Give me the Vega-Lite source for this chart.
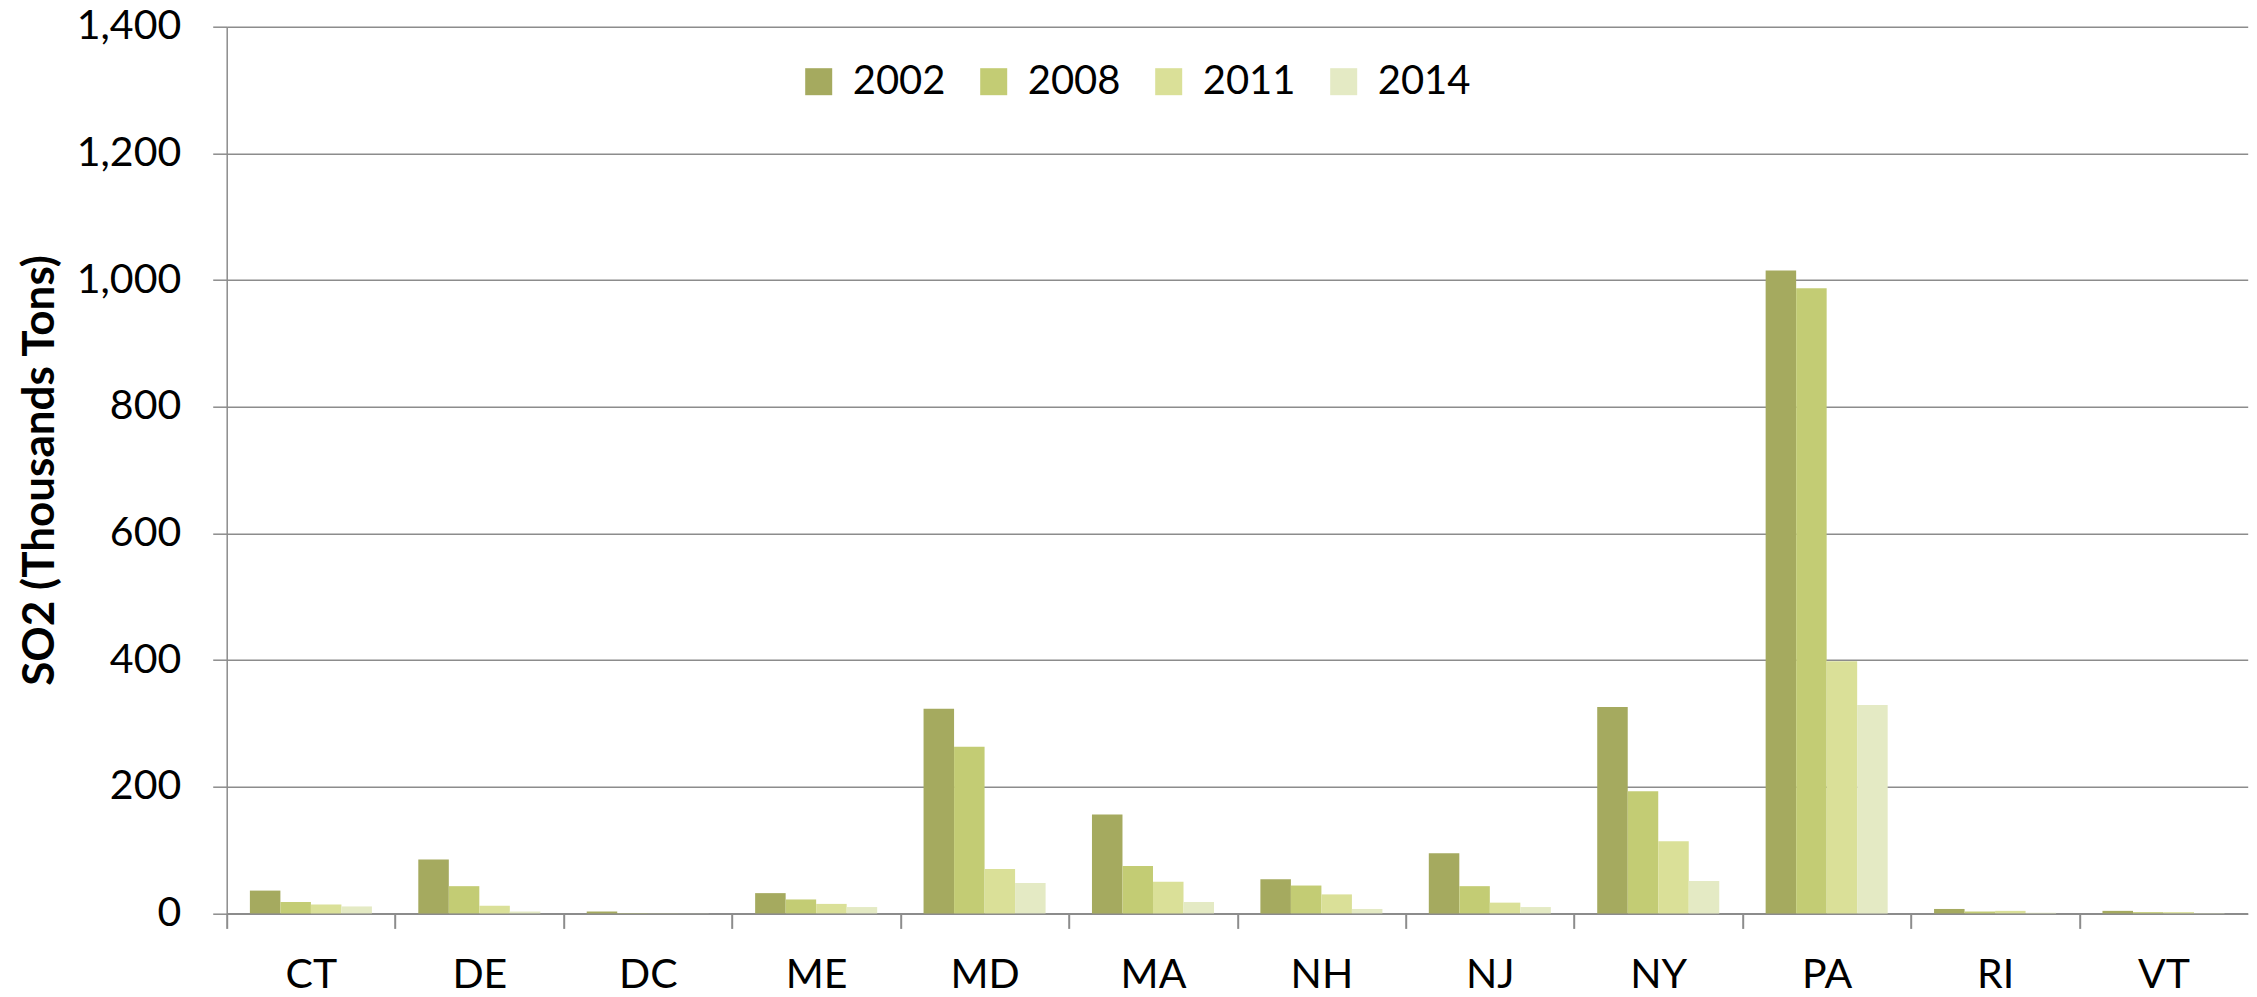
{
  "$schema": "https://vega.github.io/schema/vega-lite/v6.json",
  "width": 2021,
  "height": 886.7,
  "autosize": {"type": "none"},
  "padding": {"left": 226.7, "top": 26.7, "right": 9.3, "bottom": 83.6},
  "background": "white",
  "config": {"view": {"stroke": null}, "font": "Lato"},
  "data": {
    "values": [
      {"state": "CT", "year": "2002", "value": 36},
      {"state": "CT", "year": "2008", "value": 18},
      {"state": "CT", "year": "2011", "value": 14},
      {"state": "CT", "year": "2014", "value": 11},
      {"state": "DE", "year": "2002", "value": 85},
      {"state": "DE", "year": "2008", "value": 43},
      {"state": "DE", "year": "2011", "value": 12},
      {"state": "DE", "year": "2014", "value": 3},
      {"state": "DC", "year": "2002", "value": 3},
      {"state": "DC", "year": "2008", "value": 0.5},
      {"state": "DC", "year": "2011", "value": 0.3},
      {"state": "DC", "year": "2014", "value": 0.2},
      {"state": "ME", "year": "2002", "value": 32},
      {"state": "ME", "year": "2008", "value": 22},
      {"state": "ME", "year": "2011", "value": 15},
      {"state": "ME", "year": "2014", "value": 10},
      {"state": "MD", "year": "2002", "value": 323},
      {"state": "MD", "year": "2008", "value": 263},
      {"state": "MD", "year": "2011", "value": 70},
      {"state": "MD", "year": "2014", "value": 48},
      {"state": "MA", "year": "2002", "value": 156},
      {"state": "MA", "year": "2008", "value": 75},
      {"state": "MA", "year": "2011", "value": 50},
      {"state": "MA", "year": "2014", "value": 18},
      {"state": "NH", "year": "2002", "value": 54},
      {"state": "NH", "year": "2008", "value": 44},
      {"state": "NH", "year": "2011", "value": 30},
      {"state": "NH", "year": "2014", "value": 7},
      {"state": "NJ", "year": "2002", "value": 95},
      {"state": "NJ", "year": "2008", "value": 43},
      {"state": "NJ", "year": "2011", "value": 17},
      {"state": "NJ", "year": "2014", "value": 10},
      {"state": "NY", "year": "2002", "value": 326},
      {"state": "NY", "year": "2008", "value": 193},
      {"state": "NY", "year": "2011", "value": 114},
      {"state": "NY", "year": "2014", "value": 51},
      {"state": "PA", "year": "2002", "value": 1015},
      {"state": "PA", "year": "2008", "value": 987},
      {"state": "PA", "year": "2011", "value": 398},
      {"state": "PA", "year": "2014", "value": 329},
      {"state": "RI", "year": "2002", "value": 7},
      {"state": "RI", "year": "2008", "value": 3},
      {"state": "RI", "year": "2011", "value": 4},
      {"state": "RI", "year": "2014", "value": 1},
      {"state": "VT", "year": "2002", "value": 4},
      {"state": "VT", "year": "2008", "value": 2},
      {"state": "VT", "year": "2011", "value": 2},
      {"state": "VT", "year": "2014", "value": 0.5}
    ]
  },
  "mark": {"type": "bar"},
  "encoding": {
    "x": {
      "field": "state",
      "type": "nominal",
      "sort": ["CT", "DE", "DC", "ME", "MD", "MA", "NH", "NJ", "NY", "PA", "RI", "VT"],
      "scale": {"paddingInner": 0, "paddingOuter": 0},
      "axis": {
        "title": null,
        "labelAngle": 0,
        "ticks": true,
        "tickOffset": -84.2,
        "labelOffset": 84.2,
        "labelFontSize": 41,
        "labelFont": "Lato",
        "labelColor": "black",
        "labelPadding": 27,
        "tickSize": 15,
        "tickColor": "#8c8c8c",
        "tickWidth": 2,
        "domainColor": "#8c8c8c",
        "domainWidth": 2,
        "grid": false
      }
    },
    "xOffset": {
      "field": "year",
      "type": "nominal",
      "sort": ["2002", "2008", "2011", "2014"],
      "scale": {"paddingInner": 0, "paddingOuter": 0.76}
    },
    "y": {
      "field": "value",
      "type": "quantitative",
      "scale": {"domain": [0, 1400], "nice": false},
      "axis": {
        "values": [0, 200, 400, 600, 800, 1000, 1200, 1400],
        "format": ",.0f",
        "title": "SO2 (Thousands Tons)",
        "titleFontSize": 44,
        "titleFontWeight": "bold",
        "titleFont": "Lato",
        "titleColor": "black",
        "titleAngle": -90,
        "titleBaseline": "middle",
        "titleX": -186,
        "titleY": 443.3,
        "labelFontSize": 41,
        "labelFont": "Lato",
        "labelColor": "black",
        "labelPadding": 32,
        "tickSize": 14,
        "tickColor": "#8c8c8c",
        "tickWidth": 1.5,
        "domainColor": "#8c8c8c",
        "domainWidth": 1.5,
        "grid": true,
        "gridColor": "#8c8c8c",
        "gridWidth": 1.5
      }
    },
    "color": {
      "field": "year",
      "type": "nominal",
      "scale": {
        "domain": ["2002", "2008", "2011", "2014"],
        "range": ["#A5AA5F", "#C3CC74", "#DAE098", "#E4EAC4"]
      },
      "legend": {
        "orient": "none",
        "legendX": 572,
        "legendY": 35,
        "direction": "horizontal",
        "title": null,
        "symbolType": "square",
        "symbolSize": 729,
        "symbolStrokeWidth": 0,
        "labelFontSize": 40,
        "labelFont": "Lato",
        "labelColor": "black",
        "labelOffset": 14,
        "columnPadding": 28,
        "padding": 0
      }
    }
  }
}
